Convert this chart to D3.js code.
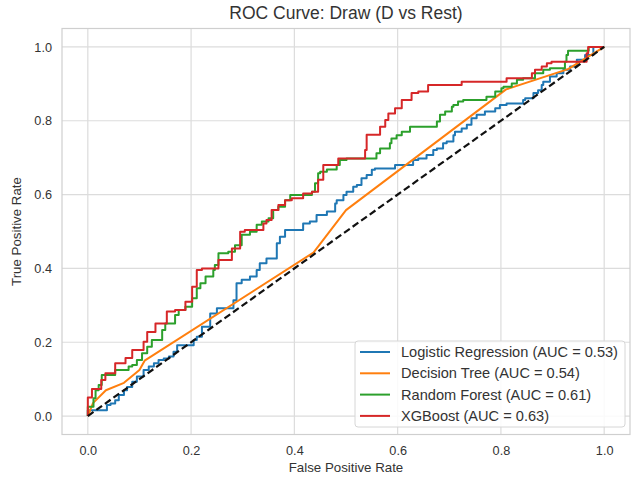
<!DOCTYPE html>
<html>
<head>
<meta charset="utf-8">
<script src="https://cdn.jsdelivr.net/npm/d3@7"></script>
<style>
  body { margin: 0; background: #fff; }
  svg text { font-family: "Liberation Sans", Arial, sans-serif; fill: #333; }
</style>
</head>
<body>
<div id="chart"></div>
<script>
// ROC points (fpr, tpr)
const lrFpr = [0,0,0.015,0.037,0.044,0.053,0.06,0.07,0.076,0.086,0.095,0.108,0.118,0.128,0.137,0.147,0.157,0.166,0.173,0.182,0.205,0.211,0.221,0.237,0.25,0.266,0.282,0.288,0.298,0.314,0.327,0.333,0.346,0.366,0.372,0.382,0.395,0.417,0.43,0.443,0.463,0.479,0.482,0.495,0.501,0.514,0.521,0.53,0.54,0.55,0.556,0.563,0.595,0.598,0.63,0.64,0.656,0.669,0.676,0.688,0.695,0.708,0.711,0.724,0.734,0.743,0.753,0.769,0.776,0.789,0.798,0.811,0.814,0.843,0.847,0.863,0.872,0.879,0.882,0.895,0.908,0.921,0.934,0.947,0.963,0.979,1];
const lrTpr = [0,0.005,0.016,0.016,0.03,0.034,0.043,0.057,0.07,0.079,0.093,0.107,0.125,0.134,0.143,0.152,0.156,0.161,0.174,0.192,0.192,0.206,0.215,0.242,0.278,0.292,0.292,0.314,0.36,0.369,0.378,0.396,0.414,0.427,0.468,0.486,0.504,0.504,0.522,0.527,0.545,0.554,0.576,0.585,0.599,0.608,0.621,0.626,0.644,0.653,0.667,0.671,0.671,0.68,0.68,0.694,0.698,0.707,0.721,0.725,0.739,0.744,0.761,0.77,0.779,0.789,0.807,0.816,0.825,0.825,0.834,0.843,0.847,0.847,0.856,0.861,0.875,0.883,0.897,0.906,0.92,0.929,0.938,0.947,0.965,0.978,1];

const dtFpr = [0,0.01,0.035,0.07,0.1,0.11,0.437,0.5,0.81,0.93,1];
const dtTpr = [0,0.035,0.07,0.09,0.125,0.15,0.443,0.558,0.885,0.94,1];

const rfFpr = [0,0.011,0.015,0.021,0.027,0.034,0.053,0.06,0.079,0.086,0.095,0.105,0.115,0.124,0.128,0.144,0.15,0.169,0.176,0.189,0.202,0.211,0.218,0.228,0.243,0.246,0.253,0.272,0.285,0.298,0.314,0.327,0.337,0.35,0.359,0.369,0.382,0.392,0.401,0.434,0.44,0.446,0.45,0.463,0.482,0.488,0.501,0.508,0.559,0.566,0.585,0.588,0.598,0.608,0.624,0.64,0.676,0.682,0.692,0.695,0.705,0.708,0.717,0.727,0.73,0.772,0.776,0.789,0.801,0.805,0.821,0.831,0.843,0.866,0.882,0.895,0.924,0.927,0.93,0.94,0.97,0.975,1];
const rfTpr = [0,0.025,0.048,0.07,0.084,0.111,0.111,0.125,0.125,0.134,0.138,0.152,0.17,0.188,0.206,0.206,0.233,0.251,0.274,0.287,0.296,0.319,0.346,0.36,0.378,0.396,0.409,0.441,0.445,0.463,0.491,0.499,0.518,0.527,0.536,0.558,0.567,0.585,0.599,0.599,0.608,0.631,0.658,0.662,0.668,0.68,0.694,0.698,0.698,0.712,0.725,0.739,0.752,0.761,0.77,0.784,0.784,0.798,0.816,0.825,0.825,0.838,0.843,0.852,0.856,0.856,0.865,0.865,0.879,0.888,0.892,0.901,0.911,0.915,0.929,0.938,0.942,0.96,0.978,0.99,0.99,1,1];

const xgFpr = [0,0,0.008,0.012,0.026,0.034,0.053,0.073,0.086,0.108,0.115,0.131,0.153,0.169,0.189,0.202,0.211,0.221,0.23,0.253,0.262,0.279,0.295,0.304,0.32,0.34,0.346,0.356,0.369,0.382,0.395,0.417,0.434,0.446,0.456,0.466,0.485,0.488,0.537,0.54,0.546,0.566,0.576,0.582,0.595,0.608,0.627,0.64,0.659,0.666,0.724,0.727,0.811,0.814,0.86,0.866,0.879,0.889,0.898,0.966,0.969,0.972,1];
const xgTpr = [0,0.03,0.05,0.073,0.073,0.098,0.116,0.143,0.157,0.179,0.201,0.228,0.251,0.283,0.287,0.31,0.35,0.396,0.4,0.4,0.423,0.423,0.454,0.499,0.504,0.504,0.522,0.531,0.558,0.572,0.585,0.59,0.603,0.608,0.64,0.68,0.68,0.698,0.698,0.721,0.762,0.762,0.784,0.802,0.82,0.834,0.856,0.875,0.879,0.897,0.897,0.906,0.906,0.915,0.915,0.929,0.938,0.947,0.956,0.96,0.983,1,1];

const models = ["Logistic Regression", "Decision Tree", "Random Forest", "XGBoost"];
const aucs = [0.53, 0.54, 0.61, 0.63];
const colors = ["#1f77b4", "#ff7f0e", "#2ca02c", "#d62728"];
const ticks = [0, 0.2, 0.4, 0.6, 0.8, 1.0];

const W = 633, H = 478;
const plot = { left: 62, right: 630, top: 28.5, bottom: 434.5 };

const x = d3.scaleLinear().domain([-0.05, 1.05]).range([plot.left, plot.right]);
const y = d3.scaleLinear().domain([-0.05, 1.05]).range([plot.bottom, plot.top]);

const svg = d3.select("#chart").append("svg")
  .attr("width", W)
  .attr("height", H);

// grid
svg.append("g").selectAll("line.gx")
  .data(ticks).join("line")
  .attr("x1", d => x(d)).attr("x2", d => x(d))
  .attr("y1", plot.top).attr("y2", plot.bottom)
  .attr("stroke", "#dcdcdc").attr("stroke-width", 1.2);

svg.append("g").selectAll("line.gy")
  .data(ticks).join("line")
  .attr("y1", d => y(d)).attr("y2", d => y(d))
  .attr("x1", plot.left).attr("x2", plot.right)
  .attr("stroke", "#dcdcdc").attr("stroke-width", 1.2);

// frame
svg.append("rect")
  .attr("x", plot.left).attr("y", plot.top)
  .attr("width", plot.right - plot.left)
  .attr("height", plot.bottom - plot.top)
  .attr("fill", "none")
  .attr("stroke", "#cfcfcf")
  .attr("stroke-width", 1.2);

// axes
const xAxis = svg.append("g")
  .attr("transform", `translate(0,${plot.bottom})`)
  .call(d3.axisBottom(x).tickValues(ticks).tickFormat(d3.format(".1f")).tickSize(0).tickPadding(11));
const yAxis = svg.append("g")
  .attr("transform", `translate(${plot.left},0)`)
  .call(d3.axisLeft(y).tickValues(ticks).tickFormat(d3.format(".1f")).tickSize(0).tickPadding(10));
[xAxis, yAxis].forEach(a => {
  a.select(".domain").remove();
  a.selectAll("text").style("font-size", "12.7px").attr("fill", "#333");
});

// curves
const series = [
  { fpr: lrFpr, tpr: lrTpr, curve: d3.curveStepBefore },
  { fpr: dtFpr, tpr: dtTpr, curve: d3.curveLinear },
  { fpr: rfFpr, tpr: rfTpr, curve: d3.curveStepBefore },
  { fpr: xgFpr, tpr: xgTpr, curve: d3.curveStepBefore }
];

series.forEach((s, i) => {
  const pts = s.fpr.map((f, j) => [f, s.tpr[j]]);
  const line = d3.line()
    .x(d => x(d[0]))
    .y(d => y(d[1]))
    .curve(s.curve);
  svg.append("path")
    .datum(pts)
    .attr("fill", "none")
    .attr("stroke", colors[i])
    .attr("stroke-width", 2)
    .attr("stroke-linejoin", "round")
    .attr("d", line);
});

// chance line
svg.append("line")
  .attr("x1", x(0)).attr("y1", y(0))
  .attr("x2", x(1)).attr("y2", y(1))
  .attr("stroke", "#111")
  .attr("stroke-width", 2.2)
  .attr("stroke-dasharray", "7,3.5");

// labels
svg.append("text")
  .attr("x", (plot.left + plot.right) / 2)
  .attr("y", 18.5)
  .attr("text-anchor", "middle")
  .style("font-size", "17.5px")
  .text("ROC Curve: Draw (D vs Rest)");

svg.append("text")
  .attr("x", (plot.left + plot.right) / 2)
  .attr("y", 472)
  .attr("text-anchor", "middle")
  .style("font-size", "13.3px")
  .text("False Positive Rate");

svg.append("text")
  .attr("transform", `translate(21,${(plot.top + plot.bottom) / 2}) rotate(-90)`)
  .attr("text-anchor", "middle")
  .style("font-size", "13.3px")
  .text("True Positive Rate");

// legend
const lg = svg.append("g").attr("transform", "translate(355,341)");
lg.append("rect")
  .attr("width", 270).attr("height", 86)
  .attr("rx", 3)
  .attr("fill", "rgba(255,255,255,0.85)")
  .attr("stroke", "#d6d6d6");

models.forEach((m, i) => {
  const row = lg.append("g").attr("transform", `translate(0,${11 + i * 21.3})`);
  row.append("line")
    .attr("x1", 5).attr("x2", 35)
    .attr("stroke", colors[i]).attr("stroke-width", 2);
  row.append("text")
    .attr("x", 46).attr("dy", "0.35em")
    .style("font-size", "14.6px")
    .text(`${m} (AUC = ${aucs[i].toFixed(2)})`);
});
</script>
</body>
</html>
